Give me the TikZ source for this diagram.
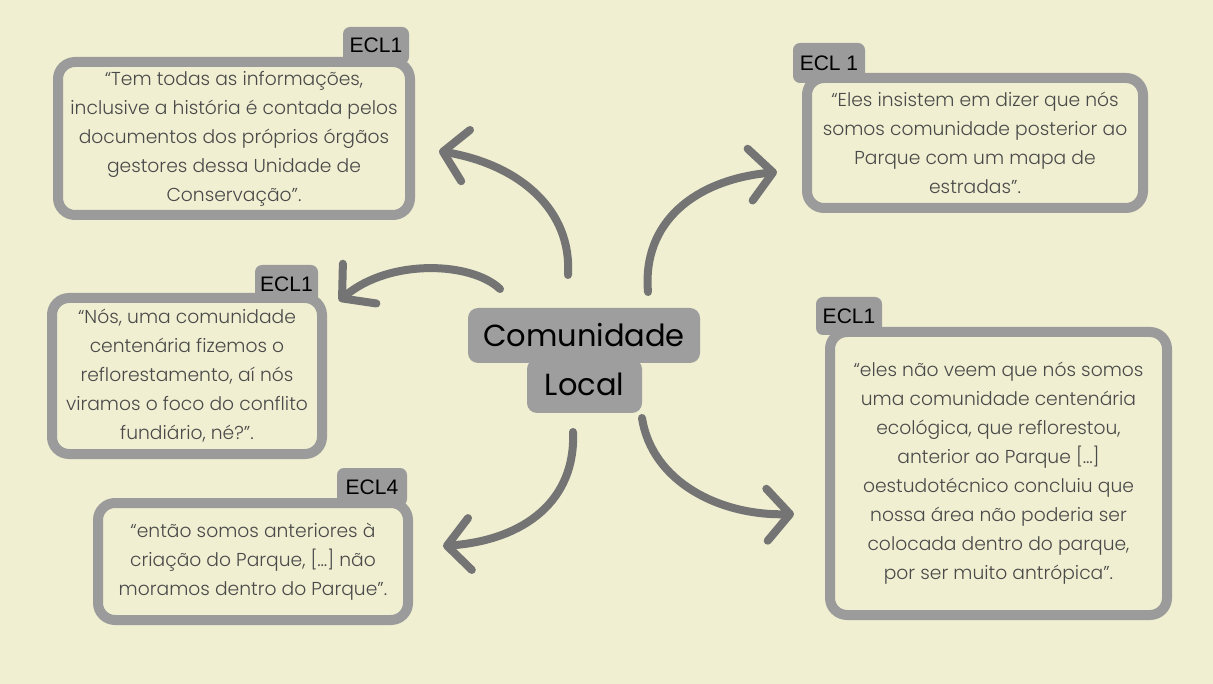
\documentclass[tikz,border=0pt]{standalone}
\usepackage{fontspec}
\usetikzlibrary{arrows.meta}
\newfontfamily\qfont{Poppins}[UprightFont=* Light]
\newfontfamily\cfont{Poppins}
\newfontfamily\lfont{Liberation Sans}
\definecolor{bg}{HTML}{F0EFD1}
\definecolor{boxgray}{HTML}{9B9B9B}
\definecolor{arrgray}{HTML}{747474}
\definecolor{txtgray}{HTML}{4A4A4A}
\definecolor{cgray}{HTML}{9E9E9E}
\tikzset{
  quote/.style={draw=boxgray, line width=10pt, rounded corners=17pt, fill=bg,
    align=center, text=txtgray, inner sep=0pt,
    font=\qfont\fontsize{18.7}{29}\selectfont},
  tabbox/.style={fill=boxgray, rounded corners=7pt, inner sep=0pt, text=black,
    font=\lfont\fontsize{21}{21}\selectfont},
  cbox/.style={fill=cgray, rounded corners=10pt, inner sep=0pt, text=black,
    font=\cfont\fontsize{30.5}{32}\selectfont},
  conn/.style={draw=arrgray, line width=8pt, line cap=round,
    -{Straight Barb[length=23pt, width=52pt, round]}}
}
\begin{document}
\begin{tikzpicture}[x=1pt,y=-1pt]
\fill[bg] (0,0) rectangle (1213,684);
\useasboundingbox (0,0) rectangle (1213,684);

% tabs
\node[tabbox, minimum width=66pt, minimum height=37pt] (t1) at (376,45.5) {ECL1};
\node[tabbox, minimum width=72pt, minimum height=40pt] (t2) at (829,63) {ECL 1};
\node[tabbox, minimum width=63pt, minimum height=38pt] (t3) at (286.5,284) {ECL1};
\node[tabbox, minimum width=70pt, minimum height=38pt] (t4) at (372,487) {ECL4};
\node[tabbox, minimum width=66pt, minimum height=38pt] (t5) at (849,316) {ECL1};

% quote boxes
\node[quote, minimum width=352pt, minimum height=153pt] (q1) at (234,138.5)
 {“Tem todas as informações,\\inclusive a história é contada pelos\\documentos dos próprios órgãos\\gestores dessa Unidade de\\Conservação”.};
\node[quote, minimum width=336pt, minimum height=130pt] (q2) at (975,143)
 {“Eles insistem em dizer que nós\\somos comunidade posterior ao\\Parque com um mapa de\\estradas”.};
\node[quote, minimum width=270pt, minimum height=156pt] (q3) at (187,376)
 {“Nós, uma comunidade\\centenária fizemos o\\reflorestamento, aí nós\\viramos o foco do conflito\\fundiário, né?”.};
\node[quote, minimum width=310pt, minimum height=117pt] (q4) at (253,561.5)
 {“então somos anteriores à\\criação do Parque, […] não\\moramos dentro do Parque”.};
\node[quote, minimum width=337pt, minimum height=283pt] (q5) at (998.5,473.5)
 {“eles não veem que nós somos\\uma comunidade centenária\\ecológica, que reflorestou,\\anterior ao Parque […]\\oestudotécnico concluiu que\\nossa área não poderia ser\\colocada dentro do parque,\\por ser muito antrópica”.};

% centre
\node[cbox, minimum width=115pt, minimum height=54pt] (c2) at (584.5,386) {};
\node[cbox, minimum width=232pt, minimum height=55pt] (c1) at (584,335.5) {Comunidade};
\node[inner sep=0pt, text=black, font=\cfont\fontsize{30.5}{32}\selectfont] (c2t) at (584.5,384) {Local};

% connector ends
\coordinate (a1s) at (568,275);  \coordinate (a1e) at (439,151);
\coordinate (a2s) at (500,289);  \coordinate (a2e) at (339,301);
\coordinate (a3s) at (648,292);  \coordinate (a3e) at (777,172);
\coordinate (a4s) at (573,432);  \coordinate (a4e) at (443,546);
\coordinate (a5s) at (642,418);  \coordinate (a5e) at (794,514);

\draw[conn] (a1s) .. controls (572,210) and (520,165) .. (a1e);
\draw[conn] (a2s) .. controls (472,262) and (390,258) .. (a2e);
\draw[conn] (a3s) .. controls (642,222) and (695,180) .. (a3e);
\draw[conn] (a4s) .. controls (576,500) and (525,540) .. (a4e);
\draw[conn] (a5s) .. controls (652,482) and (720,516) .. (a5e);
\end{tikzpicture}
\end{document}
